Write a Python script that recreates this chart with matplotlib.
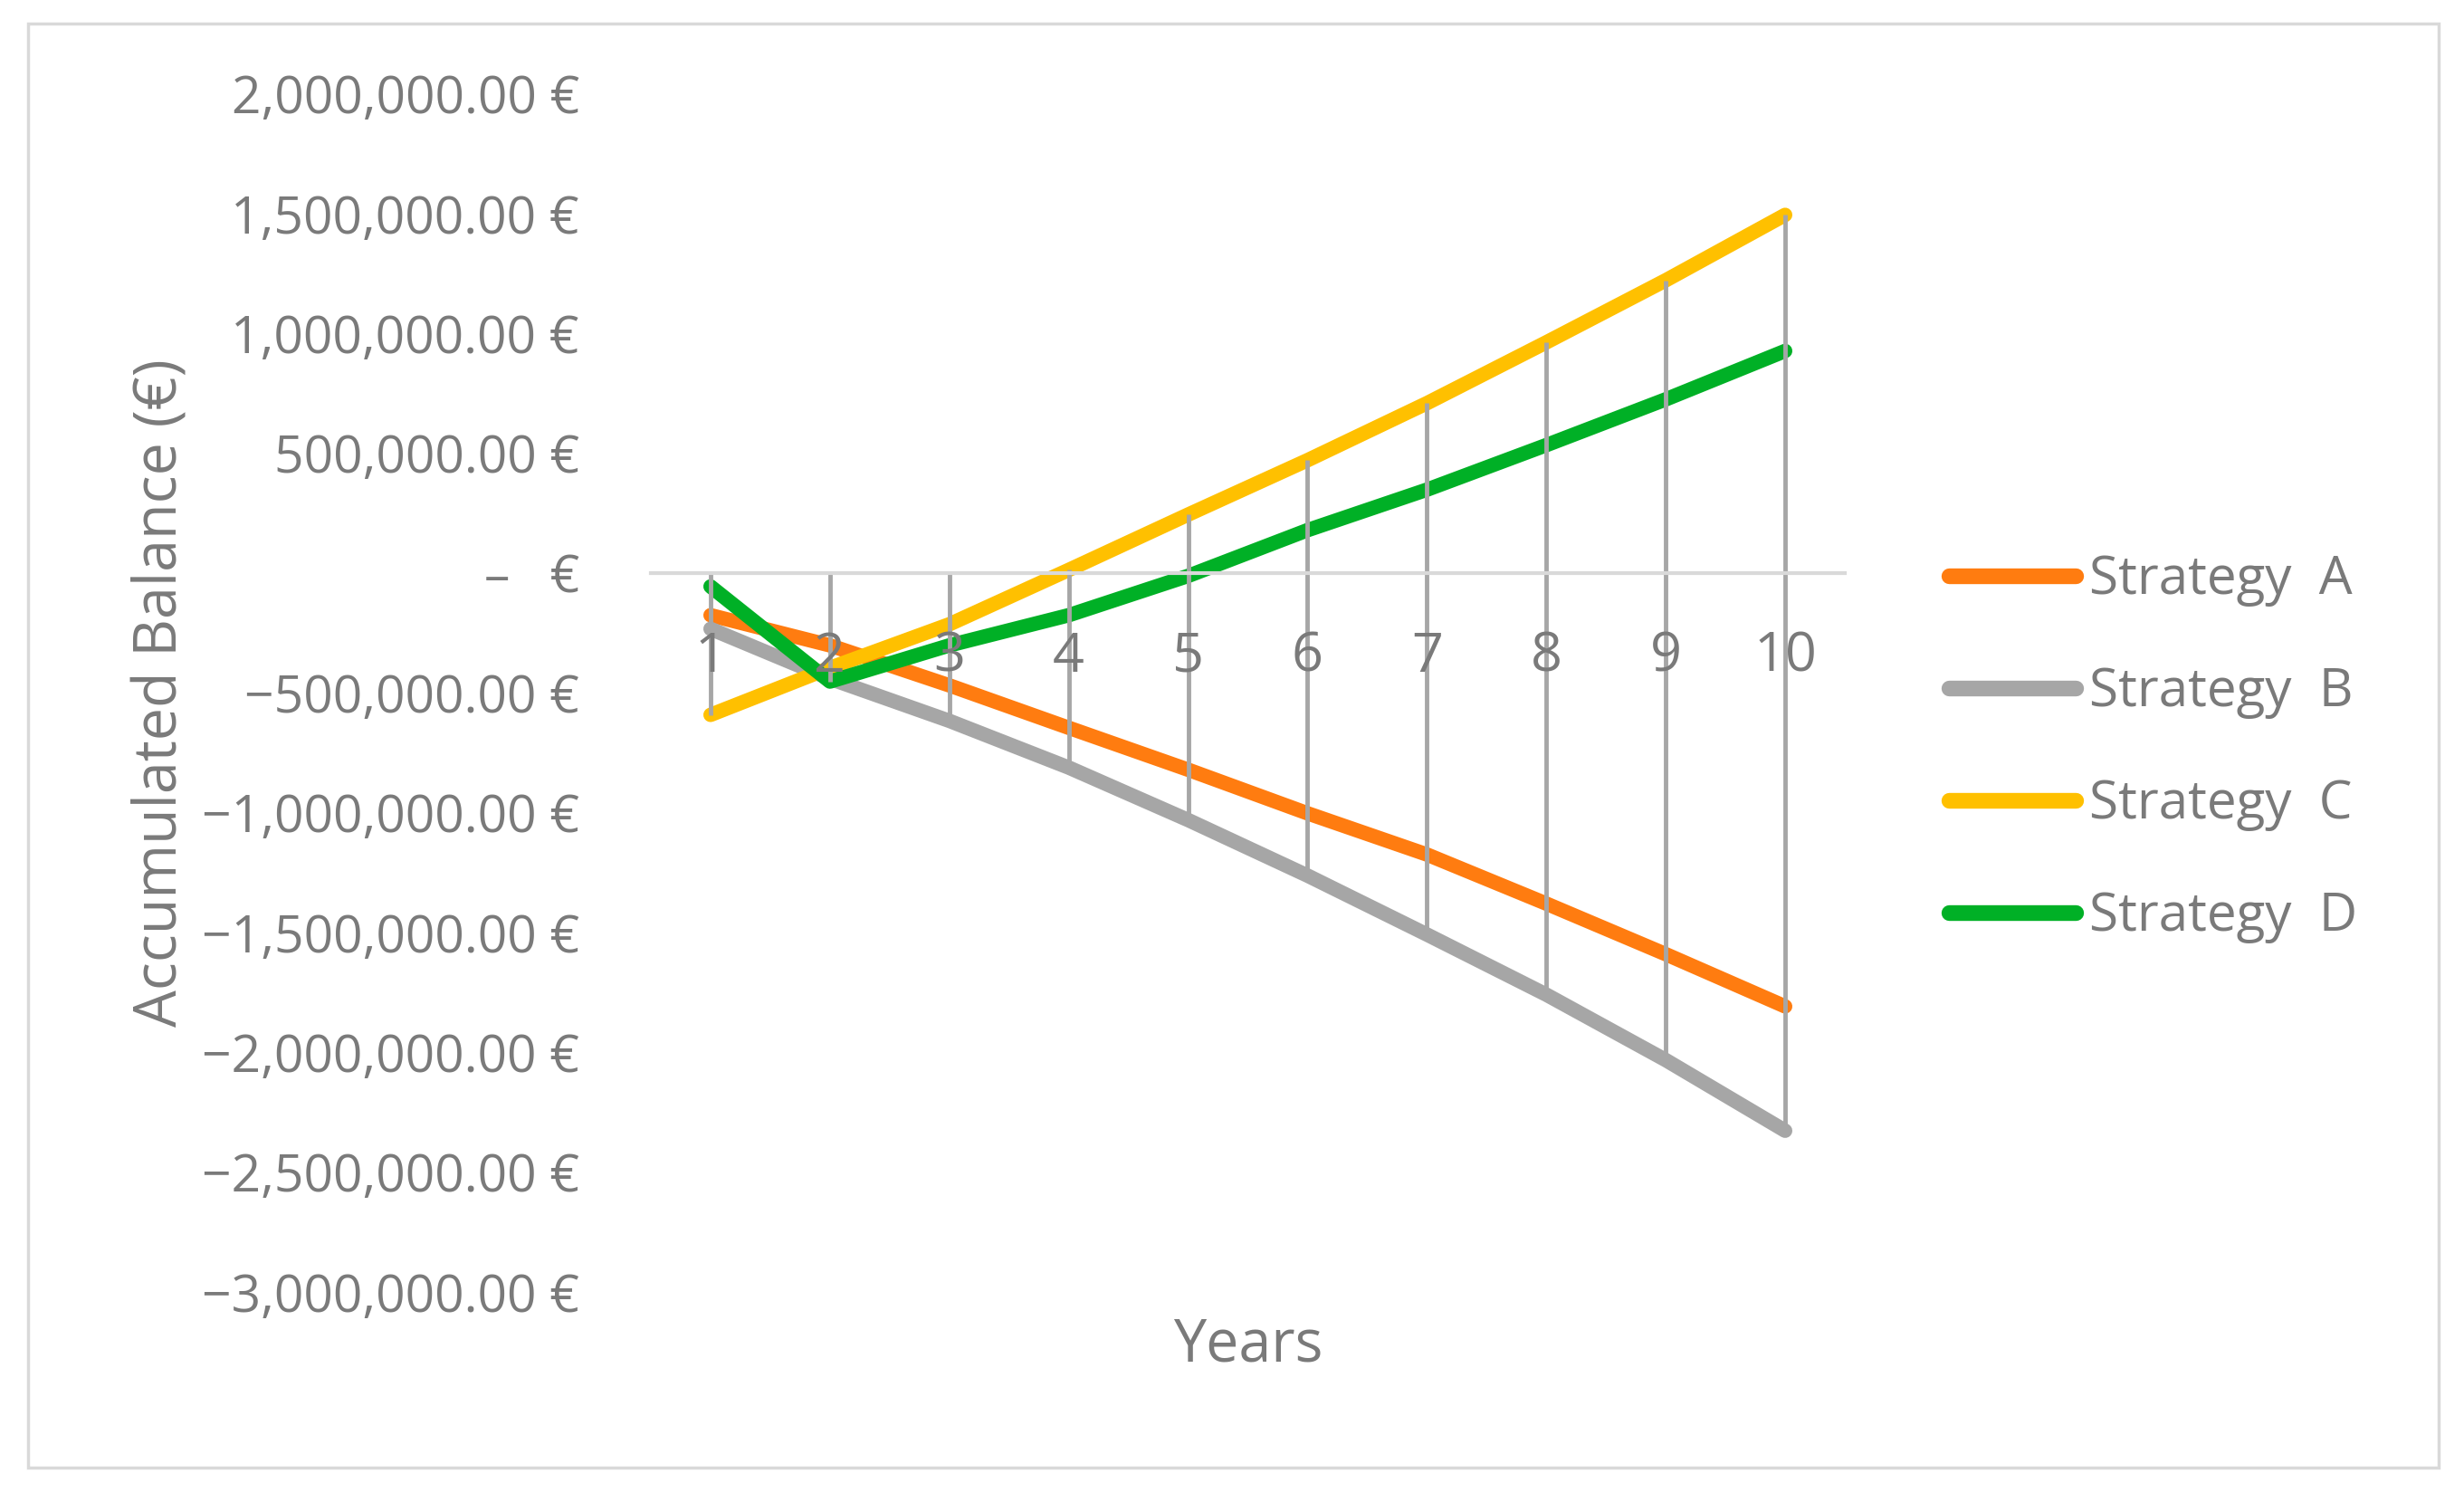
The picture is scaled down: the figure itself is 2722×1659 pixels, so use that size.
import matplotlib.pyplot as plt
import matplotlib.patches as patches
from matplotlib.ticker import FuncFormatter, MultipleLocator

# Data
years = [1, 2, 3, 4, 5, 6, 7, 8, 9, 10]
strategy_a = [-175e3, -301e3, -468e3, -645e3, -820e3, -1002e3, -1174e3, -1379e3, -1590e3, -1808e3]
strategy_b = [-232e3, -440e3, -616e3, -811e3, -1030e3, -1262e3, -1508e3, -1759e3, -2032e3, -2327e3]
strategy_c = [-591e3, -395e3, -213e3, 14e3, 245e3, 472e3, 710e3, 964e3, 1223e3, 1496e3]
strategy_d = [-55e3, -452e3, -301e3, -175e3, -11e3, 180e3, 349e3, 535e3, 726e3, 928e3]
labels = ['Strategy  A', 'Strategy  B', 'Strategy  C', 'Strategy  D']
colors = ['#FF7C10', '#A6A6A6', '#FFC000', '#00B026']

plt.rcParams['font.family'] = ['Open Sans', 'DejaVu Sans']
txt = '#7a7a7a'
fs = 41

fig = plt.figure(figsize=(27.22, 16.59), dpi=100)
fig.patches.append(patches.Rectangle((31 / 2722, 1 - 1621 / 1659), (2694 - 31) / 2722, (1621 - 26) / 1659,
                                     transform=fig.transFigure, fill=False, edgecolor='#d9d9d9', lw=2.5))
ax = fig.add_axes([719 / 2722, 1 - 1427 / 1659, 1319 / 2722, 1323 / 1659])

series = [strategy_a, strategy_b, strategy_c, strategy_d]
for vals, lab, c in zip(series, labels, colors):
    ax.plot(years, vals, color=c, lw=11.5, solid_capstyle='round', solid_joinstyle='round', label=lab, zorder=2)

# drop lines from each point to the axis
lo = [min(0, *v) for v in zip(*series)]
hi = [max(0, *v) for v in zip(*series)]
ax.vlines(years, lo, hi, color='#A6A6A6', lw=3.5, zorder=2.2)

ax.set_xlim(0.5, 10.5)
ax.set_ylim(-3e6, 2e6)
ax.yaxis.set_major_locator(MultipleLocator(5e5))
ax.set_xticks(years)


def eur(v, pos):
    if abs(v) < 1:
        return '–   €'
    s = '{:,.2f} €'.format(abs(v))
    return ('−' + s) if v < 0 else s


ax.yaxis.set_major_formatter(FuncFormatter(eur))
for s in ['top', 'right', 'left']:
    ax.spines[s].set_visible(False)
ax.spines['bottom'].set_position(('data', 0))
ax.spines['bottom'].set_color('#d9d9d9')
ax.spines['bottom'].set_linewidth(3)
ax.set_axisbelow(False)
ax.tick_params(axis='x', length=0, pad=45, labelsize=44, labelcolor=txt)
ax.tick_params(axis='y', length=0, pad=57, labelsize=fs, labelcolor=txt)

ax.set_xlabel('Years', fontsize=46.5, color=txt, va='center')
ax.xaxis.set_label_coords(0.5, -0.0446)
ax.set_ylabel('Accumulated Balance (€)', fontsize=46.5, color=txt, va='center')
ax.yaxis.set_label_coords(-0.41, 0.5)

leg = ax.legend(loc='center left', bbox_to_anchor=(2153 / 2722, 1 - 827 / 1659), bbox_transform=fig.transFigure,
                frameon=False, fontsize=42, labelcolor=txt, handlelength=2.4, handletextpad=0.25,
                labelspacing=1.12, borderpad=0, borderaxespad=0)
for h in leg.get_lines():
    h.set_linewidth(12.5)
    h.set_solid_capstyle('round')

fig.savefig('out.png', dpi=100)
